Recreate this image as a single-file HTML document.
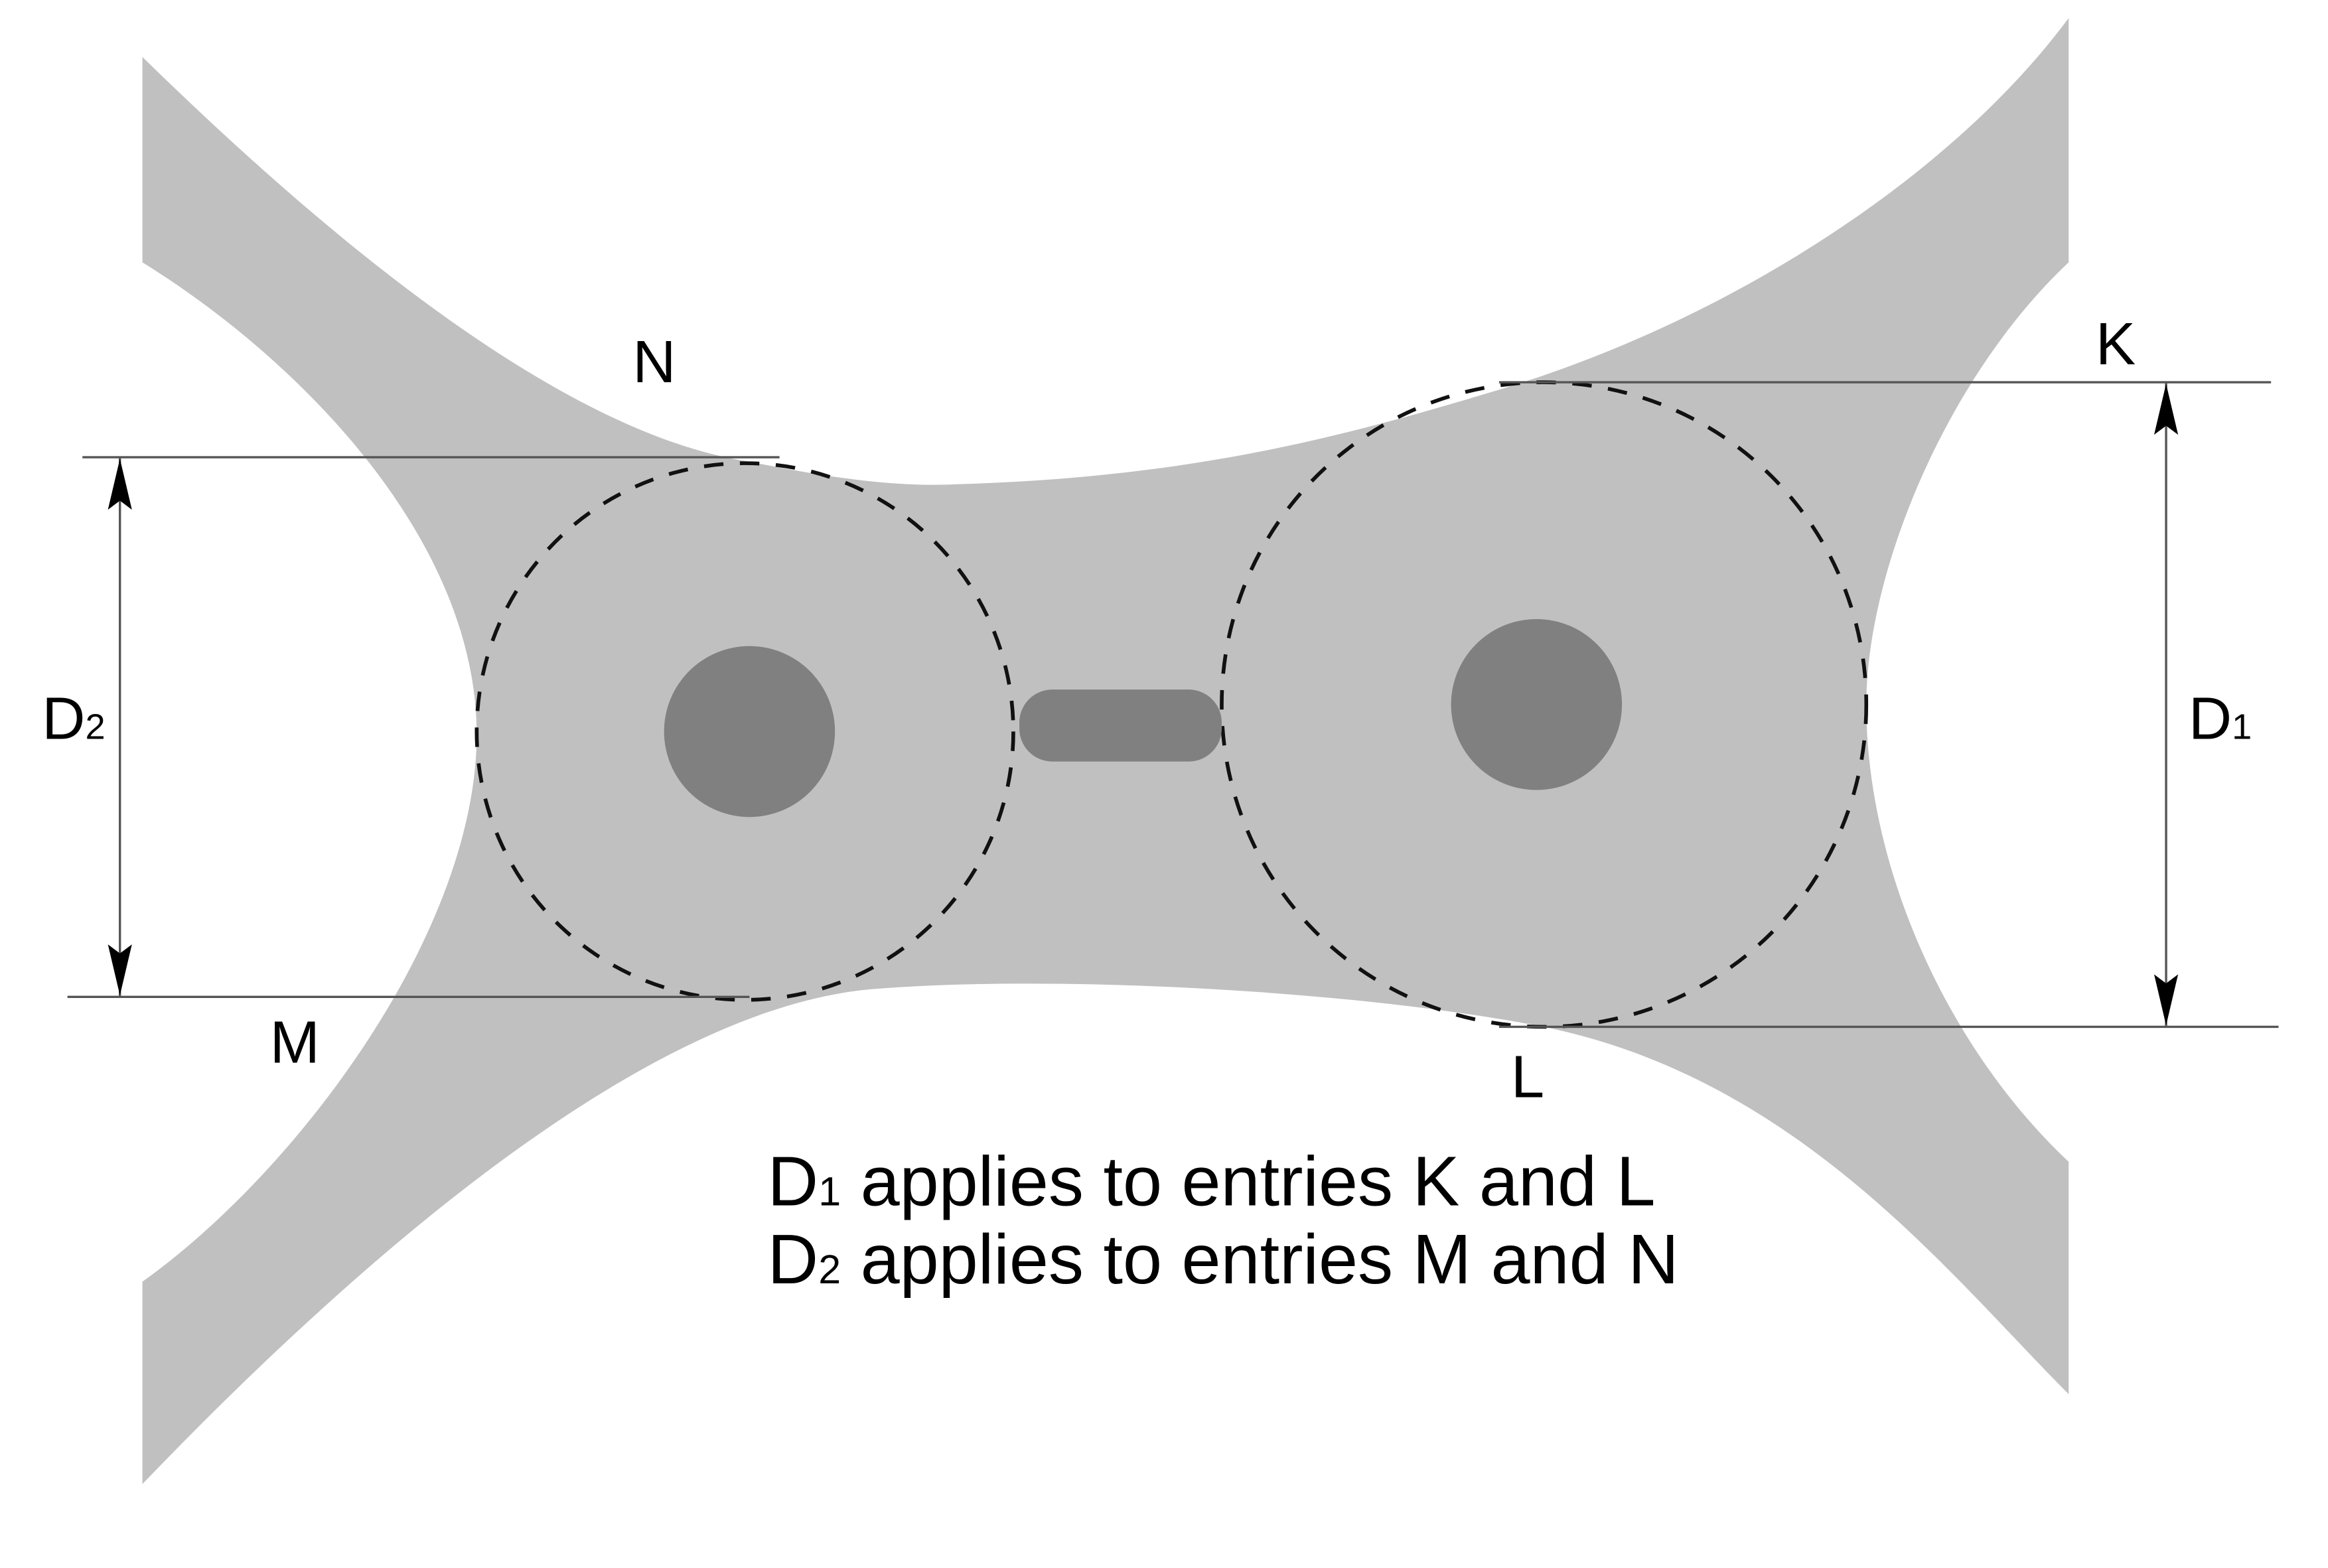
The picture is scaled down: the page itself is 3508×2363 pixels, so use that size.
<!DOCTYPE html>
<html><head><meta charset="utf-8"><style>html,body{margin:0;padding:0;background:#fff}svg{display:block}</style></head>
<body>
<svg width="3508" height="2363" viewBox="0 0 1553 1046" preserveAspectRatio="none" xmlns="http://www.w3.org/2000/svg">
<path fill="#c0c0c0" d="M95,38 C230,170 380,290 500,308 C560,320 600,325 640,323 C800,318 900,290 1000,260 C1150,215 1300,120 1380,12 L1380,175 C1300,250 1245,380 1245,470 C1245,580 1300,700 1380,775 L1380,930 C1300,850 1200,720 1030,685 C900,660 700,650 580,660 C420,675 220,860 95,990 L95,855 C200,780 318,620 318,490 C318,360 200,240 95,175 Z"/>
<circle cx="497" cy="488" r="179" fill="none" stroke="#111" stroke-width="2.5" stroke-dasharray="13,11"/>
<circle cx="1030" cy="470" r="215" fill="none" stroke="#111" stroke-width="2.5" stroke-dasharray="13,11"/>
<circle cx="500" cy="488" r="57" fill="#808080"/>
<circle cx="1025" cy="470" r="57" fill="#808080"/>
<rect x="680" y="460" width="135" height="48" rx="22" fill="#808080"/>
<g stroke="#555" stroke-width="1.5">
<line x1="55" y1="305" x2="520" y2="305"/>
<line x1="45" y1="665" x2="500" y2="665"/>
<line x1="1000" y1="255" x2="1515" y2="255"/>
<line x1="1000" y1="685" x2="1520" y2="685"/>
<line x1="80" y1="305" x2="80" y2="665"/>
<line x1="1445" y1="255" x2="1445" y2="685"/>
</g>
<g fill="#000">
<path d="M80,306 L72,340 L80,334 L88,340 Z"/>
<path d="M80,664 L72,630 L80,636 L88,630 Z"/>
<path d="M1445,256 L1437,290 L1445,284 L1453,290 Z"/>
<path d="M1445,684 L1437,650 L1445,656 L1453,650 Z"/>
</g>
<g font-family="Liberation Sans, sans-serif" fill="#000">
<text x="422" y="255" font-size="40">N</text>
<text x="1398" y="243" font-size="40">K</text>
<text x="180" y="709" font-size="40">M</text>
<text x="1008" y="732" font-size="40">L</text>
<text x="28" y="493" font-size="40">D<tspan font-size="24">2</tspan></text>
<text x="1460" y="493" font-size="40">D<tspan font-size="24">1</tspan></text>
<text x="512" y="804" font-size="47">D<tspan font-size="27">1</tspan> applies to entries K and L</text>
<text x="512" y="856" font-size="47">D<tspan font-size="27">2</tspan> applies to entries M and N</text>
</g>
</svg>
</body></html>
